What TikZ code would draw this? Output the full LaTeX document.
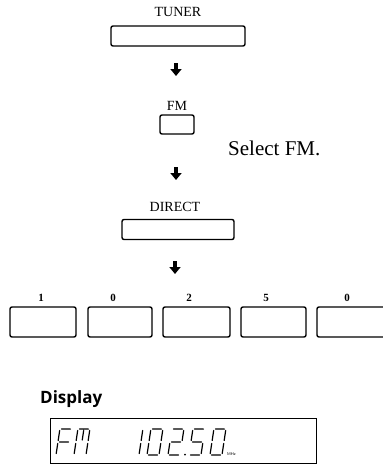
\documentclass[tikz,border=0pt]{standalone}
\usepackage{fontspec}
\setmainfont{Liberation Serif}
\newfontfamily\dispfont{Open Sans}
\usetikzlibrary{arrows.meta}
\def\lcdA{(1.5,-26)--(10.5,-26)}
\def\lcdB{(12,-24.5)--(12,-14.5)}
\def\lcdC{(12,-11.5)--(12,-1.5)}
\def\lcdD{(1.5,0)--(10.5,0)}
\def\lcdE{(0,-1.5)--(0,-11.5)}
\def\lcdF{(0,-14.5)--(0,-24.5)}
\def\lcdG{(1.5,-13)--(10.5,-13)}
\newcommand\lcdchar[3]{\begin{scope}[shift={(#1,#2)},xslant=0.15]\draw[lcd] #3;\end{scope}}
\begin{document}
\begin{tikzpicture}[x=1pt,y=-1pt,
  btn/.style={draw, line width=1.4pt, rounded corners=2pt, inner sep=0pt},
  lbl/.style={font=\fontsize{14}{16}\selectfont, inner sep=0pt},
  dig/.style={font=\bfseries\fontsize{11}{12}\selectfont, inner sep=0pt},
  blkarrow/.style={line width=4pt, -{Triangle[width=11pt,length=7pt]}},
  lcd/.style={line width=1.2pt, line cap=round}]
\useasboundingbox (0,0) rectangle (383,475);
% TUNER
\node[lbl] (tunerl) at (178,12) {TUNER};
\node[btn, minimum width=134pt, minimum height=20pt] (tuner) at (178,36) {};
\coordinate (a1s) at (176,63);
\coordinate (a1e) at (176,76);
\draw[blkarrow] (a1s) -- (a1e);
% FM
\node[lbl] (fml) at (177,106) {FM};
\node[btn, minimum width=34pt, minimum height=19pt] (fm) at (177,124.5) {};
\node[anchor=base west, inner sep=0pt, font=\fontsize{21}{24}\selectfont] (sel) at (228,155) {Select FM.};
\coordinate (a2s) at (176,167);
\coordinate (a2e) at (176,180);
\draw[blkarrow] (a2s) -- (a2e);
% DIRECT
\node[lbl] (dirl) at (175,207) {DIRECT};
\node[btn, minimum width=112pt, minimum height=20pt] (direct) at (178,229.5) {};
\coordinate (a3s) at (175,261);
\coordinate (a3e) at (175,274);
\draw[blkarrow] (a3s) -- (a3e);
% digit keys
\node[dig] (d1l) at (41,298) {1};
\node[dig] (d2l) at (113,298) {0};
\node[dig] (d3l) at (189,298) {2};
\node[dig] (d4l) at (266,298) {5};
\node[dig] (d5l) at (347,298) {0};
\node[btn, minimum width=66pt, minimum height=30pt] (k1) at (43,322) {};
\node[btn, minimum width=64pt, minimum height=30pt] (k2) at (120,322) {};
\node[btn, minimum width=67pt, minimum height=30pt] (k3) at (196.5,322) {};
\node[btn, minimum width=65pt, minimum height=30pt] (k4) at (273.5,322) {};
\draw[line width=1.4pt, rounded corners=2pt] (383,307) -- (317,307) -- (317,337) -- (383,337);
% Display
\node[anchor=base west, inner sep=0pt, font=\dispfont\bfseries\fontsize{17}{19}\selectfont] (disp) at (40,403) {Display};
\node[draw, line width=0.9pt, minimum width=266pt, minimum height=45pt, inner sep=0pt] (dispbox) at (183,440.5) {};
% LCD characters
\lcdchar{56}{455}{\lcdA\lcdE\lcdF\lcdG}
\lcdchar{74}{455}{\lcdA\lcdB\lcdC\lcdE\lcdF (6,-24.5)--(6,-15)}
\lcdchar{127}{455}{\lcdB\lcdC}
\lcdchar{147}{455}{\lcdA\lcdB\lcdC\lcdD\lcdE\lcdF}
\lcdchar{168}{455}{\lcdA\lcdB\lcdG\lcdE\lcdD}
\fill (185,454.5) circle (1pt);
\lcdchar{189}{455}{\lcdA\lcdF\lcdG\lcdC\lcdD}
\lcdchar{210}{455}{\lcdA\lcdB\lcdC\lcdD\lcdE\lcdF}
\node[anchor=base west, inner sep=0pt, font=\sffamily\fontsize{4}{4}\selectfont] (mhz) at (227,455) {MHz};
\end{tikzpicture}
\end{document}
